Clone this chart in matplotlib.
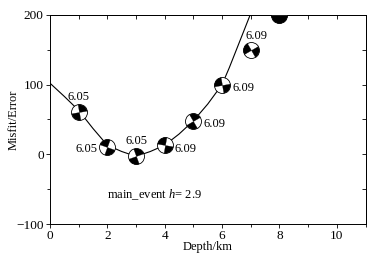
import matplotlib
matplotlib.use('Agg')
import matplotlib.pyplot as plt
from matplotlib.path import Path

# misfit curve
curve_x = [0, 0.5, 1.0, 1.5, 2.0, 2.5, 3.0, 3.5, 4.0, 4.5, 5.0, 5.5, 6.0,
           6.25, 6.5, 6.75, 6.98]
curve_y = [102, 83, 63, 37, 13, 4, -3, 4, 13, 29, 48, 72, 100,
           124, 150, 176, 200]

# focal mechanisms at each trial depth
depths = [1, 2, 3, 4, 5, 6, 7, 8]
misfit = [60, 10, -3, 13, 48, 100, 150, 200]
mags = ['6.05', '6.05', '6.05', '6.09', '6.09', '6.09', '6.09', '']
ball_rot = [10, 70, 20, 80, 30, 100, 120, 180]
ball_span = [90, 90, 90, 90, 90, 90, 90, 180]
# where the magnitude label sits relative to the ball (pixels)
lab_dx = [0, -10, 0, 10, 10, 10, 6, 0]
lab_dy = [15, -2, 15, -4, -3, -3, 14, 0]

plt.rc('font', family='Liberation Serif', size=9)
plt.rc('mathtext', fontset='custom', it='Liberation Serif:italic',
       rm='Liberation Serif')

fig = plt.figure(figsize=(3.84, 2.59), dpi=100)
ax = fig.add_axes([0.130, 0.135, 0.822, 0.808])

ax.plot(curve_x, curve_y, color='black', lw=0.8, zorder=2)

for d, m, rot, span, mag, dx, dy in zip(depths, misfit, ball_rot, ball_span,
                                        mags, lab_dx, lab_dy):
    ax.scatter([d], [m], marker='o', s=132, facecolor='white',
               edgecolor='black', linewidth=0.6, zorder=3)
    for a in (rot, rot + 180):
        ax.scatter([d], [m], marker=Path.wedge(a, a + span), s=132,
                   facecolor='black', edgecolor='black', linewidth=0.2,
                   zorder=4)
    if mag:
        if dx > 6:
            ha = 'left'
        elif dx < 0:
            ha = 'right'
        else:
            ha = 'center'
        ax.annotate(mag, (d, m), xytext=(dx, dy), textcoords='offset pixels',
                    ha=ha, va='center', fontsize=9)

ax.text(2.0, -58, 'main_event $\\mathit{h}$= 2.9', fontsize=9, va='center',
        ha='left')

ax.set_xlim(0, 11)
ax.set_ylim(-100, 200)
ax.set_xticks([0, 2, 4, 6, 8, 10])
ax.set_xticks(range(0, 12), minor=True)
ax.set_yticks([-100, 0, 100, 200])
ax.set_yticks(range(-100, 201, 50), minor=True)
ax.tick_params(which='both', direction='out', length=3, width=0.6, pad=1.5,
               labelsize=9.5)
ax.tick_params(which='minor', length=2.5)

# inward ticks on top and right
top = ax.secondary_xaxis('top')
top.set_xticks(range(0, 12))
top.tick_params(direction='in', length=3, width=0.6, labeltop=False)
right = ax.secondary_yaxis('right')
right.set_yticks(range(-100, 201, 50))
right.tick_params(direction='in', length=3, width=0.6, labelright=False)

for s in ax.spines.values():
    s.set_linewidth(0.7)
top.spines['top'].set_linewidth(0.7)
right.spines['right'].set_linewidth(0.7)

ax.set_xlabel('Depth/km')
ax.set_ylabel('Misfit/Error')
ax.xaxis.set_label_coords(0.5, -0.082)
ax.yaxis.set_label_coords(-0.095, 0.5)

fig.savefig('out.png', dpi=100)
